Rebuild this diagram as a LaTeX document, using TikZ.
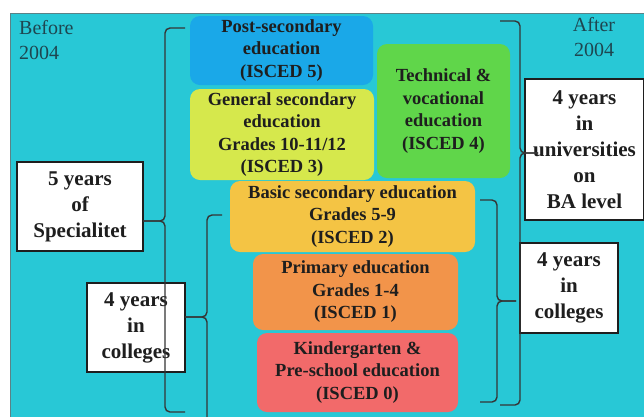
\documentclass[tikz,border=0pt]{standalone}
\usepackage{fontspec}
\setmainfont{Liberation Serif}
\newfontfamily\timesface{Liberation Serif}
\definecolor{seaCyan}{RGB}{40,200,214}
\definecolor{frameGray}{RGB}{90,130,135}
\definecolor{postBlue}{RGB}{26,168,232}
\definecolor{genLime}{RGB}{214,232,76}
\definecolor{techGreen}{RGB}{96,214,74}
\definecolor{basicGold}{RGB}{244,196,68}
\definecolor{primOrange}{RGB}{242,148,74}
\definecolor{kinderRed}{RGB}{242,106,106}
\definecolor{inkDark}{RGB}{30,30,30}
\definecolor{yearTeal}{RGB}{30,70,80}
\tikzset{
  level/.style={rounded corners=10pt, inner sep=0pt, align=center, text=inkDark,
                font=\timesface\bfseries\fontsize{18.5}{22.5}\selectfont},
  yearbox/.style={draw=inkDark, line width=1.3pt, fill=white, inner sep=0pt, align=center,
                  font=\timesface\bfseries\fontsize{21}{26}\selectfont, text=inkDark},
  eralabel/.style={inner sep=0pt, text=yearTeal, font=\timesface\fontsize{20}{25}\selectfont},
  bracket/.style={draw=inkDark!90, line width=1.4pt, rounded corners=5pt}
}

\begin{document}
\begin{tikzpicture}[x=1pt, y=-1pt]
\useasboundingbox (0,0) rectangle (644,416);
\fill[seaCyan, draw=frameGray, line width=1pt] (10,13) rectangle (646,418);

% before / after
\node[eralabel, anchor=west, align=left] (before) at (19,40) {Before\\2004};
\node[eralabel, align=center] (after) at (594,37) {After\\2004};

% ISCED levels
\node[level, fill=postBlue, minimum width=183pt, minimum height=69pt] (post) at (281.5,50.5)
  {Post-secondary\\education\\(ISCED 5)};
\node[level, fill=genLime, minimum width=184pt, minimum height=91pt] (gensec) at (282,134.5)
  {General secondary\\education\\Grades 10-11/12\\(ISCED 3)};
\node[level, fill=techGreen, minimum width=133pt, minimum height=134pt] (tech) at (443.5,111)
  {Technical \&\\vocational\\education\\(ISCED 4)};
\node[level, fill=basicGold, minimum width=245pt, minimum height=71pt] (basic) at (352.5,216.5)
  {Basic secondary education\\Grades 5-9\\(ISCED 2)};
\node[level, fill=primOrange, minimum width=205pt, minimum height=76pt] (primary) at (355.5,292)
  {Primary education\\Grades 1-4\\(ISCED 1)};
\node[level, fill=kinderRed, minimum width=201pt, minimum height=79pt] (kinder) at (357.5,372.5)
  {Kindergarten \&\\Pre-school education\\(ISCED 0)};

% study durations
\node[yearbox, minimum width=126pt, minimum height=89pt] (spec) at (80,206.5)
  {5 years\\of\\Specialitet};
\node[yearbox, minimum width=98pt, minimum height=89pt] (collold) at (136,327.5)
  {4 years\\in\\colleges};
\node[yearbox, minimum width=119pt, minimum height=141pt] (univ) at (584.5,149.5)
  {4 years\\in\\universities\\on\\BA level};
\node[yearbox, minimum width=98pt, minimum height=90pt] (collnew) at (569,288)
  {4 years\\in\\colleges};

% braces, left side
\draw[bracket] (185,28) -| (165,221) -- (143,221);
\draw[bracket] (143,221) -- (165,221) |- (185,412);
\draw[bracket] (222,215) -| (207,317) -- (185,317);
\draw[bracket] (185,317) -- (207,317) -- (207,417);

% braces, right side
\draw[bracket] (500,21) -| (520,153) -- (538,153);
\draw[bracket] (538,153) -- (520,153) |- (500,405);
\draw[bracket] (480,200) -| (497,301) -- (516,301);
\draw[bracket] (516,301) -- (497,301) |- (480,402);
\end{tikzpicture}
\end{document}
